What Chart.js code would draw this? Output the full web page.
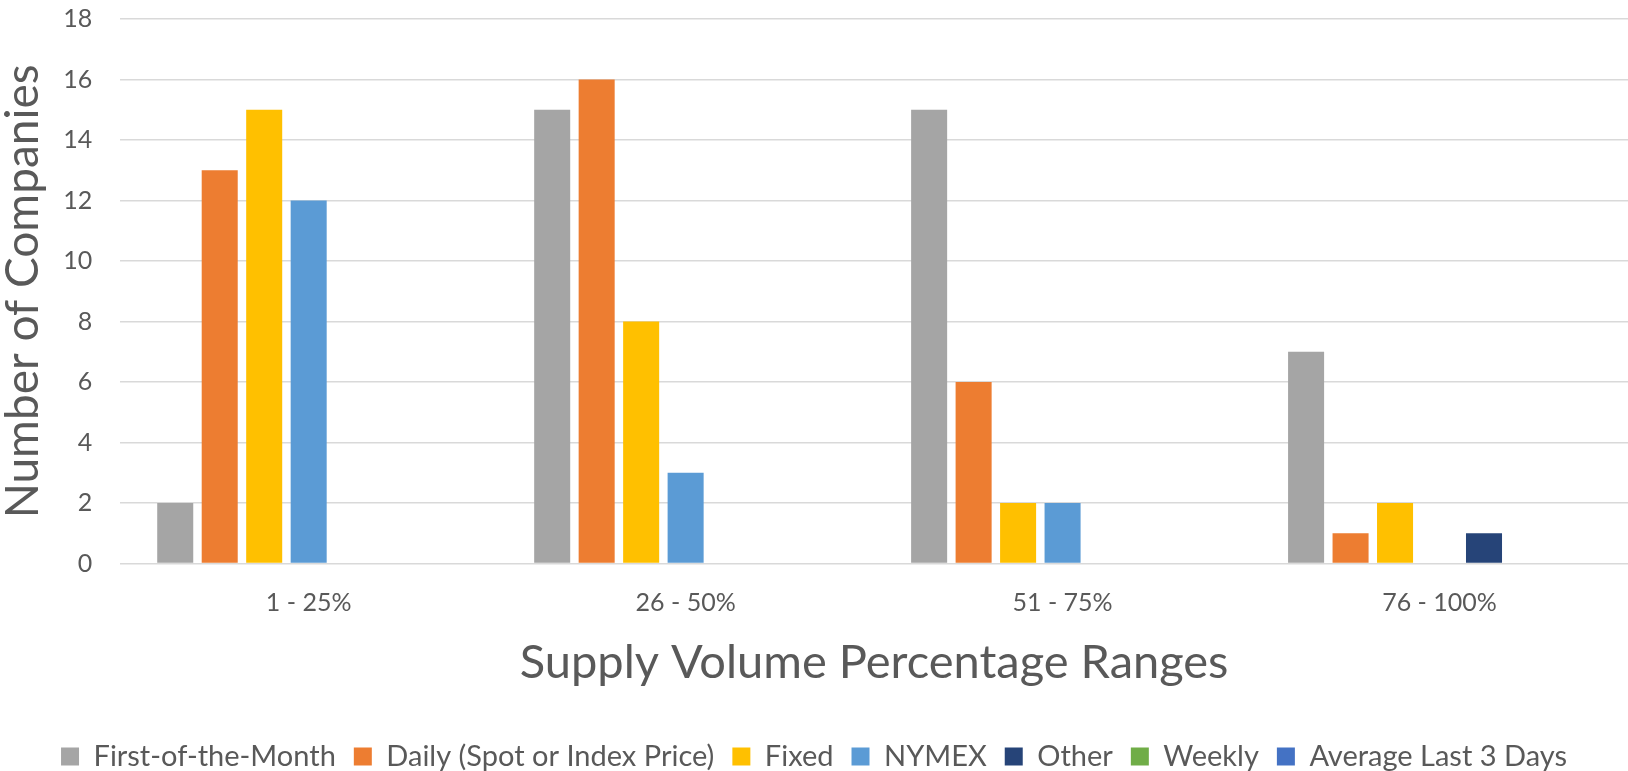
<!DOCTYPE html>
<html>
<head>
<meta charset="utf-8">
<script src="https://cdn.jsdelivr.net/npm/chart.js@4/dist/chart.umd.min.js"></script>
<style>
  html, body { margin: 0; padding: 0; background: #fff; }
  #wrap { width: 1628px; height: 771px; position: relative; }
</style>
</head>
<body>
<div id="wrap"><canvas id="chart"></canvas></div>
<script>
  // datos
  const categories = ["1 - 25%", "26 - 50%", "51 - 75%", "76 - 100%"];
  const firstOfMonth = [2, 15, 15, 7];
  const daily = [13, 16, 6, 1];
  const fixed = [15, 8, 2, 2];
  const nymex = [12, 3, 2, 0];
  const other = [0, 0, 0, 1];
  const weekly = [0, 0, 0, 0];
  const avgLast3 = [0, 0, 0, 0];
  const yTicks = [0, 2, 4, 6, 8, 10, 12, 14, 16, 18];

  const FONT = "Lato, 'Open Sans', sans-serif";
  const TXT = "#595959";

  function ds(label, data, color) {
    return { label, data, backgroundColor: color, borderColor: color, borderWidth: 0,
      categoryPercentage: 0.826, barPercentage: 0.81 };
  }

  new Chart(document.getElementById("chart"), {
    type: "bar",
    data: {
      labels: categories,
      datasets: [
        ds("First-of-the-Month", firstOfMonth, "#A5A5A5"),
        ds("Daily (Spot or Index Price)", daily, "#ED7D31"),
        ds("Fixed", fixed, "#FFC000"),
        ds("NYMEX", nymex, "#5B9BD5"),
        ds("Other", other, "#264478"),
        ds("Weekly", weekly, "#70AD47"),
        ds("Average Last 3 Days", avgLast3, "#4472C4"),
      ]
    },
    options: {
      responsive: true, maintainAspectRatio: false, animation: false,
      layout: { padding: { left: 0, right: 0, top: 0, bottom: -10 } },
      plugins: {
        tooltip: { enabled: false },
        legend: {
          position: "bottom",
          labels: { font: { family: FONT, size: 29 }, color: TXT, boxWidth: 18, boxHeight: 18, padding: 18 }
        }
      },
      scales: {
        x: {
          grid: { display: false }, border: { display: false },
          ticks: { font: { family: FONT, size: 25 }, color: TXT, padding: 16 },
          title: { display: true, text: "Supply Volume Percentage Ranges",
            font: { family: FONT, size: 47 }, color: TXT, padding: { top: 1, bottom: 33 } }
        },
        y: {
          min: 0, max: 18,
          afterBuildTicks: (axis) => { axis.ticks = yTicks.map(v => ({ value: v })); },
          // marcas invisibles para separar los números de la rejilla
          grid: { color: "#D9D9D9", lineWidth: 1.5, tickLength: 24, tickColor: "rgba(0,0,0,0)" },
          border: { display: false },
          ticks: { font: { family: FONT, size: 25 }, color: TXT, padding: 4 },
          title: { display: true, text: "Number of Companies",
            font: { family: FONT, size: 46 }, color: TXT, padding: { top: -4, bottom: 8 } }
        }
      }
    }
  });
</script>
</body>
</html>
